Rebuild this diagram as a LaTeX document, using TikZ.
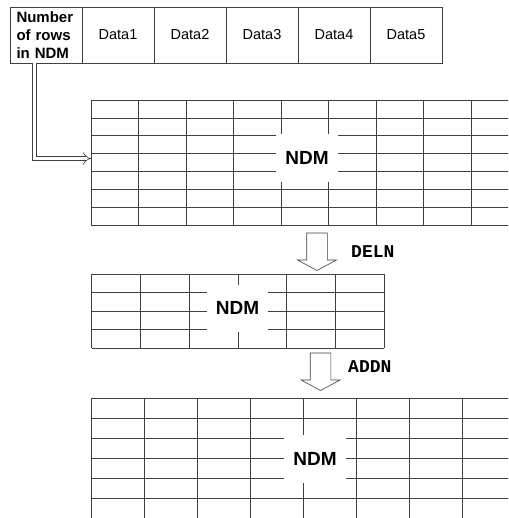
\documentclass[tikz,border=0pt]{standalone}
\usepackage{fontspec}
\setmainfont{Liberation Sans}
\setmonofont{Liberation Mono}
\usepackage{tikz}
\usetikzlibrary{arrows.meta, positioning}
\definecolor{lineGray}{HTML}{404040}

\begin{document}
\begin{tikzpicture}[
  x=1pt, y=-1pt,
  cell/.style={draw=lineGray, line width=0.6pt, outer sep=0pt, inner sep=0pt,
    minimum width=72pt, minimum height=56pt, align=center,
    font=\fontsize{14.5}{18}\selectfont},
  gridline/.style={draw=lineGray, line width=0.6pt},
  hole/.style={fill=white, inner sep=0pt, minimum width=62pt, minimum height=48pt,
    font=\bfseries\fontsize{19}{22}\selectfont},
  blockarrow/.style={draw=lineGray, fill=white, line width=0.6pt},
  opname/.style={anchor=west, inner sep=0pt, font=\ttfamily\bfseries\fontsize{18}{20}\selectfont},
  feed/.style={draw=lineGray, line width=0.6pt, double, double distance=3.8pt, -{Implies}},
  downarrow/.pic={
    \draw[blockarrow] (-10.3,0) -- (10.3,0) -- (10.3,27) -- (19.5,27)
      -- (0,37.5) -- (-19.5,27) -- (-10.3,27) -- cycle;
  },
]
  \useasboundingbox (0,0) rectangle (508,518);

  % record on top
  \node[cell, anchor=north west, align=left, text width=59pt,
        font=\bfseries\fontsize{15}{18}\selectfont] (rows) at (10,7)
    {Number\\of rows\\in NDM};
  \node[cell, right=0pt of rows] (d1) {Data1};
  \foreach \i [remember=\i as \prev (initially 1)] in {2,...,5}
    \node[cell, right=0pt of d\prev] (d\i) {Data\i};

  % first NDM (7 rows, open on the right)
  \foreach \r in {0,...,7}
    \draw[gridline] (91,100+\r*17.86) -- (508,100+\r*17.86);
  \foreach \c in {0,...,8}
    \draw[gridline] (91+\c*47.5,100) -- (91+\c*47.5,225);
  \node[hole] (ndmA) at (307,158) {NDM};

  \coordinate (rowIn) at (91,158.5);
  \draw[feed] (rows.south west) ++(24.5,0) |- (rowIn);

  % DELN
  \pic at (317,233) {downarrow};
  \node[opname] (deln) at (351,252) {DELN};

  % second NDM (4 rows)
  \foreach \r in {0,...,4}
    \draw[gridline] (91.7,274+\r*18.5) -- (384.3,274+\r*18.5);
  \foreach \c in {0,...,6}
    \draw[gridline] (91.7+\c*48.77,274) -- (91.7+\c*48.77,348);
  \node[hole, minimum width=61pt, minimum height=47pt] (ndmB) at (237.5,308) {NDM};

  % ADDN
  \pic at (320.5,353) {downarrow};
  \node[opname] (addn) at (348,367) {ADDN};

  % third NDM (open on the right and below)
  \foreach \r in {0,...,5}
    \draw[gridline] (91.7,398.3+\r*20) -- (508,398.3+\r*20);
  \foreach \c in {0,...,7}
    \draw[gridline] (91.7+\c*52.9,398.3) -- (91.7+\c*52.9,518);
  \node[hole] (ndmC) at (315,459) {NDM};
\end{tikzpicture}
\end{document}
